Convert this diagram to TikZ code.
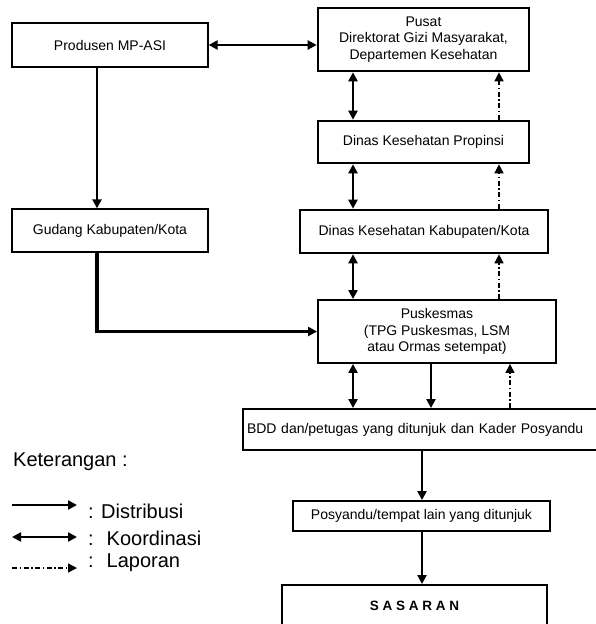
\documentclass[tikz,border=0pt]{standalone}
\usepackage{fontspec}
\setmainfont{Liberation Sans}
\usetikzlibrary{arrows.meta}

\begin{document}
\begin{tikzpicture}[x=1pt,y=-1pt,
  box/.style={draw, line width=1.3pt, inner sep=2pt, align=center, font=\fontsize{14}{16.5}\selectfont},
  boxmid/.style={box, line width=1.9pt},
  boxthick/.style={box, line width=2.6pt},
  distr/.style={line width=2.2pt, -{Triangle[length=9pt,width=9pt]}},
  koord/.style={line width=2.2pt, {Triangle[length=9pt,width=9pt]}-{Triangle[length=9pt,width=9pt]}},
  lapor/.style={line width=1.4pt, dash pattern=on 5pt off 2.5pt on 1.5pt off 2.5pt, -{Triangle[length=9pt,width=9pt]}},
  legend/.style={anchor=west, inner sep=0pt, font=\fontsize{20}{24}\selectfont}]
  \clip (0,0) rectangle (596,624);
  % boxes
  \node[box, minimum width=196pt, minimum height=44pt] (produsen) at (110,45) {Produsen MP-ASI};
  \node[boxthick, minimum width=211pt, minimum height=63pt] (pusat) at (423.5,39.5)
    {Pusat\\Direktorat Gizi Masyarakat,\\Departemen Kesehatan};
  \node[boxthick, minimum width=211pt, minimum height=42pt] (prop) at (423.5,142) {Dinas Kesehatan Propinsi};
  \node[box, minimum width=196pt, minimum height=43pt] (gudang) at (110,230.5) {Gudang Kabupaten/Kota};
  \node[boxthick, minimum width=248pt, minimum height=43pt] (kab) at (424,231.5) {Dinas Kesehatan Kabupaten/Kota};
  \node[boxmid, minimum width=238pt, minimum height=63pt] (pusk) at (437,331.5)
    {Puskesmas\\(TPG Puskesmas, LSM\\atau Ormas setempat)};
  \node[boxmid, minimum width=367pt, minimum height=41pt, text width=359pt, align=left, inner xsep=4pt] (bdd) at (426.5,429.5)
    {BDD dan/petugas yang ditunjuk dan Kader Posyandu};
  \node[boxmid, minimum width=257pt, minimum height=30pt] (posy) at (421.5,516) {Posyandu/tempat lain yang ditunjuk};
  \node[boxmid, minimum width=265pt, minimum height=41pt, font=\fontsize{13.5}{16}\selectfont\bfseries] (sasaran) at (414.5,605.5) {S A S A R A N};

  % columns for the connectors
  \coordinate (kol) at (353,0);
  \coordinate (lap) at (499,0);
  \coordinate (lapb) at (510,0);
  \coordinate (dis) at (431,0);
  \coordinate (turun) at (422,0);
  \coordinate (gd) at (97,0);

  \draw[koord] (produsen.east) -- (produsen.east -| pusat.west);
  \draw[distr] (produsen.south -| gd) -- (gudang.north -| gd);
  \draw[distr, line width=3.2pt] (gudang.south -| gd) |- (pusk.west);

  \draw[koord] (pusat.south -| kol) -- (prop.north -| kol);
  \draw[koord] (prop.south -| kol) -- (kab.north -| kol);
  \draw[koord] (kab.south -| kol) -- (pusk.north -| kol);
  \draw[koord] (pusk.south -| kol) -- (bdd.north -| kol);

  \draw[lapor] (prop.north -| lap) -- (pusat.south -| lap);
  \draw[lapor] (kab.north -| lap) -- (prop.south -| lap);
  \draw[lapor] (pusk.north -| lap) -- (kab.south -| lap);
  \draw[lapor] (bdd.north -| lapb) -- (pusk.south -| lapb);

  \draw[distr] (pusk.south -| dis) -- (bdd.north -| dis);
  \draw[distr] (bdd.south -| turun) -- (posy.north -| turun);
  \draw[distr] (posy.south -| turun) -- (sasaran.north -| turun);

  % legend
  \node[legend] (ket) at (13,462) {Keterangan :};
  \coordinate (d1) at (12,505); \coordinate (d2) at (77,505);
  \coordinate (k1) at (12,537); \coordinate (k2) at (77,537);
  \coordinate (l1) at (12,568); \coordinate (l2) at (77,568);
  \draw[distr] (d1) -- (d2);
  \draw[koord] (k1) -- (k2);
  \draw[lapor] (l1) -- (l2);
  \node[legend] (tdis) at (88,511) {: Distribusi};
  \node[legend] (tkoo) at (88,538) {:~ Koordinasi};
  \node[legend] (tlap) at (88,563) {:~ Laporan};
\end{tikzpicture}
\end{document}
